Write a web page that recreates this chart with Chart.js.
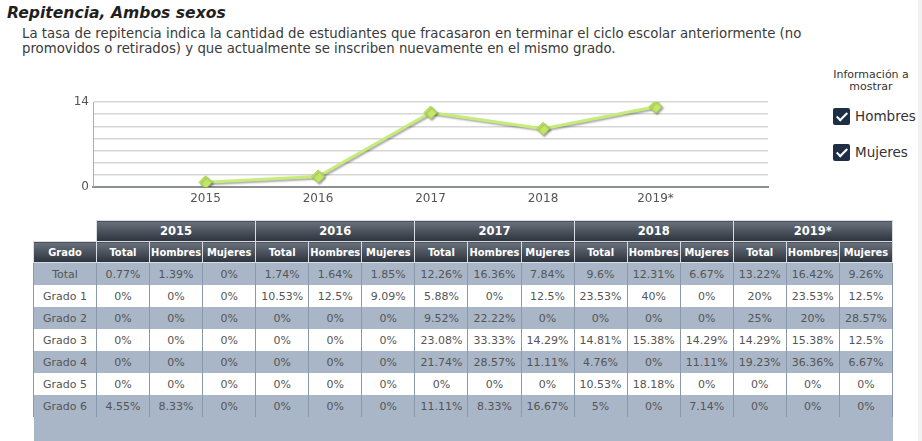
<!DOCTYPE html>
<html lang="es">
<head>
<meta charset="utf-8"/>
<title>Repitencia, Ambos sexos</title>
<script src="https://cdn.jsdelivr.net/npm/chart.js"></script>
<style>
    body {
        margin: 0;
        width: 922px;
        height: 441px;
        overflow: hidden;
        background: #fff;
        font-family: "DejaVu Sans", Verdana, sans-serif;
        color: #333;
        position: relative;
    }
    .titulo {
        position: absolute; left: 7px; top: 4px;
        font-size: 15.6px; font-weight: bold; font-style: italic;
        color: #1f1f1f; line-height: 19px;
    }
    .desc {
        position: absolute; left: 22px; top: 26px;
        font-size: 13.3px; line-height: 15px; color: #3a3a3a;
    }
    #grafico { position: absolute; left: 40px; top: 90px; }
    .panel {
        position: absolute; left: 820px; top: 69px; width: 102px;
        font-size: 11px; line-height: 12px; text-align: center; color: #333;
    }
    .chk {
        position: absolute; left: 833px; font-size: 13.5px; color: #333;
        line-height: 18px;
    }
    .chk .caja {
        display: inline-block; width: 17px; height: 17px; background: #1e2f45;
        border-radius: 2px; vertical-align: middle; position: relative; margin-right: 5px;
    }
    .chk .caja:after {
        content: ""; position: absolute; left: 6px; top: 2px; width: 4px; height: 9px;
        border: solid #fff; border-width: 0 2.5px 2.5px 0; transform: rotate(45deg);
    }
    .chk span.txt { vertical-align: middle; }
    .borde-der { position: absolute; left: 918px; top: 0; width: 4px; height: 441px; background: #f1f1f1; }
    table {
        position: absolute; left: 33px; top: 220px; width: 860px;
        border-collapse: collapse; table-layout: fixed;
        font-size: 11px;
    }
    th {
        background: linear-gradient(#69717d, #2d333c);
        color: #fff; font-weight: bold; height: 20px; padding: 0;
        border: 1px solid #d9dde3;
        font-family: Tahoma, "DejaVu Sans Condensed", "Liberation Sans", sans-serif;
        font-size: 11px;
    }
    th.anio { font-size: 11.5px; font-family: "DejaVu Sans", sans-serif; }
    th.vacio { background: #fff; border: none; }
    td {
        text-align: center; color: #555; height: 22px; padding: 0;
        border-left: 1px solid #8a98ad; border-right: 1px solid #8a98ad;
        white-space: nowrap;
    }
    tbody tr:nth-child(odd) td { background: #a9b6c8; }
    tbody tr:nth-child(even) td { background: #fff; }
    tfoot td { background: #a9b6c8; height: 30px; border: none; }
</style>
</head>
<body>
<div class="titulo">Repitencia, Ambos sexos</div>
<div class="desc">La tasa de repitencia indica la cantidad de estudiantes que fracasaron en terminar el ciclo escolar anteriormente (no<br>promovidos o retirados) y que actualmente se inscriben nuevamente en el mismo grado.</div>

<canvas id="grafico" width="740" height="122"></canvas>

<div class="panel">Información a<br>mostrar</div>
<div class="chk" style="top:106px"><span class="caja"></span><span class="txt">Hombres</span></div>
<div class="chk" style="top:142px"><span class="caja"></span><span class="txt">Mujeres</span></div>
<div class="borde-der"></div>

<table id="tabla">
    <colgroup id="cols"></colgroup>
    <thead id="cab"></thead>
    <tbody id="cuerpo"></tbody>
    <tfoot><tr><td colspan="16"></td></tr></tfoot>
</table>

<script>
    // datos
    var years = ['2015', '2016', '2017', '2018', '2019*'];
    var serieTotal = [0.77, 1.74, 12.26, 9.6, 13.22];
    var subCols = ['Total', 'Hombres', 'Mujeres'];
    var grados = ['Total', 'Grado 1', 'Grado 2', 'Grado 3', 'Grado 4', 'Grado 5', 'Grado 6'];
    var filaTotal = ['0.77%', '1.39%', '0%', '1.74%', '1.64%', '1.85%', '12.26%', '16.36%', '7.84%', '9.6%', '12.31%', '6.67%', '13.22%', '16.42%', '9.26%'];
    var filaGrado1 = ['0%', '0%', '0%', '10.53%', '12.5%', '9.09%', '5.88%', '0%', '12.5%', '23.53%', '40%', '0%', '20%', '23.53%', '12.5%'];
    var filaGrado2 = ['0%', '0%', '0%', '0%', '0%', '0%', '9.52%', '22.22%', '0%', '0%', '0%', '0%', '25%', '20%', '28.57%'];
    var filaGrado3 = ['0%', '0%', '0%', '0%', '0%', '0%', '23.08%', '33.33%', '14.29%', '14.81%', '15.38%', '14.29%', '14.29%', '15.38%', '12.5%'];
    var filaGrado4 = ['0%', '0%', '0%', '0%', '0%', '0%', '21.74%', '28.57%', '11.11%', '4.76%', '0%', '11.11%', '19.23%', '36.36%', '6.67%'];
    var filaGrado5 = ['0%', '0%', '0%', '0%', '0%', '0%', '0%', '0%', '0%', '10.53%', '18.18%', '0%', '0%', '0%', '0%'];
    var filaGrado6 = ['4.55%', '8.33%', '0%', '0%', '0%', '0%', '11.11%', '8.33%', '16.67%', '5%', '0%', '7.14%', '0%', '0%', '0%'];
    var filas = [filaTotal, filaGrado1, filaGrado2, filaGrado3, filaGrado4, filaGrado5, filaGrado6];

    // tabla
    var cols = '<col style="width:63px">';
    for (var i = 0; i < 15; i++) cols += '<col>';
    document.getElementById('cols').innerHTML = cols;

    var h1 = '<tr><th class="vacio"></th>';
    years.forEach(function (y) { h1 += '<th class="anio" colspan="3">' + y + '</th>'; });
    h1 += '</tr>';
    var h2 = '<tr><th>Grado</th>';
    years.forEach(function () {
        subCols.forEach(function (c) { h2 += '<th>' + c + '</th>'; });
    });
    h2 += '</tr>';
    document.getElementById('cab').innerHTML = h1 + h2;

    var body = '';
    filas.forEach(function (f, r) {
        body += '<tr><td>' + grados[r] + '</td>';
        f.forEach(function (v) { body += '<td>' + v + '</td>'; });
        body += '</tr>';
    });
    document.getElementById('cuerpo').innerHTML = body;

    // grafico
    var sombra = {
        id: 'sombra',
        beforeDatasetsDraw: function (chart) {
            var c = chart.ctx;
            c.save();
            c.shadowColor = 'rgba(0,0,0,0.35)';
            c.shadowOffsetX = 1.5;
            c.shadowOffsetY = 1.5;
            c.shadowBlur = 2;
        },
        afterDatasetsDraw: function (chart) {
            chart.ctx.restore();
        }
    };

    var puntos = serieTotal.map(function (v, i) { return { x: i + 1, y: v }; });

    var ctx = document.getElementById('grafico');
    var mychart = new Chart(ctx, {
        type: 'line',
        data: {
            datasets: [{
                label: 'Ambos sexos',
                data: puntos,
                borderColor: '#c8ec7a',
                borderWidth: 3,
                pointStyle: 'rectRot',
                pointRadius: 6.5,
                pointBackgroundColor: '#c2e867',
                pointBorderColor: '#add650',
                pointBorderWidth: 1,
                tension: 0
            }]
        },
        options: {
            responsive: false,
            animation: false,
            layout: { padding: { top: 12, right: 12, left: 0, bottom: 0 } },
            plugins: {
                legend: { display: false },
                tooltip: { enabled: false }
            },
            scales: {
                x: {
                    type: 'linear',
                    min: 0,
                    max: 6,
                    afterFit: function (s) { s.height = 25; },
                    grid: { display: false, drawTicks: false },
                    border: { color: '#8c8f94', width: 2 },
                    ticks: {
                        stepSize: 1,
                        autoSkip: false,
                        padding: 5,
                        color: '#555',
                        font: { family: 'DejaVu Sans', size: 12 },
                        callback: function (v) { return years[v - 1] || ''; }
                    }
                },
                y: {
                    min: 0,
                    max: 14,
                    afterFit: function (s) { s.width = 53; },
                    grid: { color: '#d6d6d6', lineWidth: 1.5, drawTicks: false },
                    border: { color: '#a9adb3', width: 1 },
                    ticks: {
                        stepSize: 2,
                        autoSkip: false,
                        padding: 4,
                        color: '#555',
                        font: { family: 'DejaVu Sans', size: 12 },
                        callback: function (v) { return (v === 0 || v === 14) ? v : ''; }
                    }
                }
            }
        },
        plugins: [sombra]
    });
</script>
</body>
</html>
